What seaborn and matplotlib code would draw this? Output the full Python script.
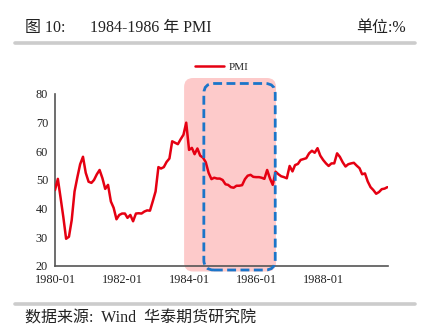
import numpy as np
import pandas as pd
import matplotlib
matplotlib.use("Agg")
import matplotlib.pyplot as plt
import matplotlib.dates as mdates
from matplotlib.patches import FancyBboxPatch
import seaborn as sns

# Monthly PMI, 1980-01 .. 1989-12
start_month = "1980-01-01"
pmi = [
    46.5, 50.4, 44.0, 37.0, 29.5, 30.2, 36.0, 46.0, 51.0, 55.5, 58.1, 52.5,
    49.4, 49.0, 50.0, 52.0, 53.5, 50.6, 46.9, 48.3, 42.5, 40.3, 36.3, 37.8,
    38.3, 38.3, 36.8, 37.8, 35.6, 38.3, 38.4, 38.3, 39.0, 39.4, 39.3, 42.5,
    46.0, 54.5, 54.0, 54.5, 56.3, 57.5, 63.5, 63.0, 62.5, 64.2, 65.8, 70.0,
    60.5, 61.2, 59.0, 61.0, 58.5, 57.8, 56.2, 52.5, 50.3, 50.8, 50.5, 50.5,
    50.0, 48.5, 48.3, 47.5, 47.3, 48.0, 48.0, 48.2, 50.3, 51.5, 51.8, 51.1,
    51.0, 51.0, 50.8, 50.4, 53.5, 50.5, 48.3, 52.9, 52.0, 51.3, 51.0, 50.6,
    54.9, 53.0, 55.2, 55.6, 57.0, 57.3, 57.6, 59.3, 60.2, 59.5, 61.1, 58.5,
    57.0, 55.8, 54.9, 55.8, 55.8, 59.3, 58.1, 56.2, 54.7, 55.5, 55.8, 56.0,
    55.0, 54.1, 52.0, 52.3, 49.5, 47.5, 46.5, 45.2, 45.8, 46.8, 47.0, 47.5,
]
tick_dates = ["1980-01-01", "1982-01-01", "1984-01-01", "1986-01-01", "1988-01-01"]
y_ticks = [20, 30, 40, 50, 60, 70, 80]
highlight_span = ("1983-11-08", "1986-08-05")   # pink band
focus_span = ("1984-06-10", "1986-07-28")       # dashed box

title_left = "图 10:"
title_mid = "1984-1986 年 PMI"
title_right = "单位:%"
source_text = "数据来源:  Wind  华泰期货研究院"

df = pd.DataFrame({
    "date": pd.date_range(start_month, periods=len(pmi), freq="MS"),
    "PMI": pmi,
})

sns.set_style("white")
serif_cjk = ["Liberation Serif", "Noto Sans CJK SC", "DejaVu Sans"]
plt.rcParams["font.family"] = serif_cjk

W, H = 424, 333
fig = plt.figure(figsize=(W / 100, H / 100), dpi=100)
ax_l, ax_r, ax_t, ax_b = 55, 388, 94, 266
ax = fig.add_axes([ax_l / W, 1 - ax_b / H, (ax_r - ax_l) / W, (ax_b - ax_t) / H])

RED = "#e50012"
sns.lineplot(data=df, x="date", y="PMI", ax=ax, color=RED, linewidth=1.8,
             label="PMI", zorder=5)

x0 = mdates.date2num(pd.Timestamp("1980-01-01"))
x1 = mdates.date2num(pd.Timestamp("1989-12-08"))
ax.set_xlim(x0, x1)
ax.set_ylim(20, 80)

# scale factors between data units and pixels
px_per_x = (ax_r - ax_l) / (x1 - x0)
px_per_y = (ax_b - ax_t) / 60.0
aspect = px_per_x / px_per_y

def rounded_box(d0, d1, y_lo, y_hi, radius_px, **kw):
    a = mdates.date2num(pd.Timestamp(d0))
    b = mdates.date2num(pd.Timestamp(d1))
    patch = FancyBboxPatch(
        (a, y_lo), b - a, y_hi - y_lo,
        boxstyle=f"round,pad=0,rounding_size={radius_px / px_per_x}",
        mutation_aspect=aspect, transform=ax.transData, clip_on=False, **kw)
    ax.add_patch(patch)
    return patch

rounded_box(*highlight_span, 80 - (271.5 - ax_t) / px_per_y,
            80 + (ax_t - 78) / px_per_y, 9,
            facecolor="#fdcaca", edgecolor="none", zorder=1)
rounded_box(*focus_span, 80 - (270 - ax_t) / px_per_y,
            80 + (ax_t - 83.5) / px_per_y, 10,
            facecolor="none", edgecolor="#1b75c9", linewidth=2.0,
            linestyle=(0, (3.2, 1.6)), zorder=6)

ax.set_xticks([mdates.date2num(pd.Timestamp(d)) for d in tick_dates])
ax.xaxis.set_major_formatter(mdates.DateFormatter("%Y-%m"))
ax.set_yticks(y_ticks)
ax.set_xlabel("")
ax.set_ylabel("")

for side in ("top", "right"):
    ax.spines[side].set_visible(False)
for side in ("left", "bottom"):
    ax.spines[side].set_color("#555555")
    ax.spines[side].set_linewidth(1.2)
ax.tick_params(axis="x", direction="in", length=3, width=1, color="#555555",
               labelsize=8.8, pad=6, labelcolor="#222222")
ax.tick_params(axis="y", direction="out", length=3, width=1, color="#555555",
               labelsize=8.8, pad=2, labelcolor="#222222")
ax.patch.set_alpha(0)

leg = ax.legend(loc="upper center", bbox_to_anchor=(0.5, 1.245), frameon=False,
                fontsize=8, handlelength=2.6, handletextpad=0.4)

# header and footer
fig.text(25 / W, 1 - 28 / H, title_left, fontsize=11.5, va="center", ha="left",
         color="#222222")
fig.text(90 / W, 1 - 28 / H, title_mid, fontsize=11.5, va="center", ha="left",
         color="#222222")
fig.text(406 / W, 1 - 28 / H, title_right, fontsize=11.5, va="center", ha="right",
         color="#222222")
fig.text(25 / W, 1 - 319 / H, source_text, fontsize=11.5, va="center", ha="left",
         color="#222222")
for yy in (42.5, 303.5):
    fig.add_artist(plt.Line2D([15 / W, 415 / W], [1 - yy / H, 1 - yy / H],
                              color="#cccccc", linewidth=2.6,
                              transform=fig.transFigure))

fig.savefig("out.png", dpi=100)
